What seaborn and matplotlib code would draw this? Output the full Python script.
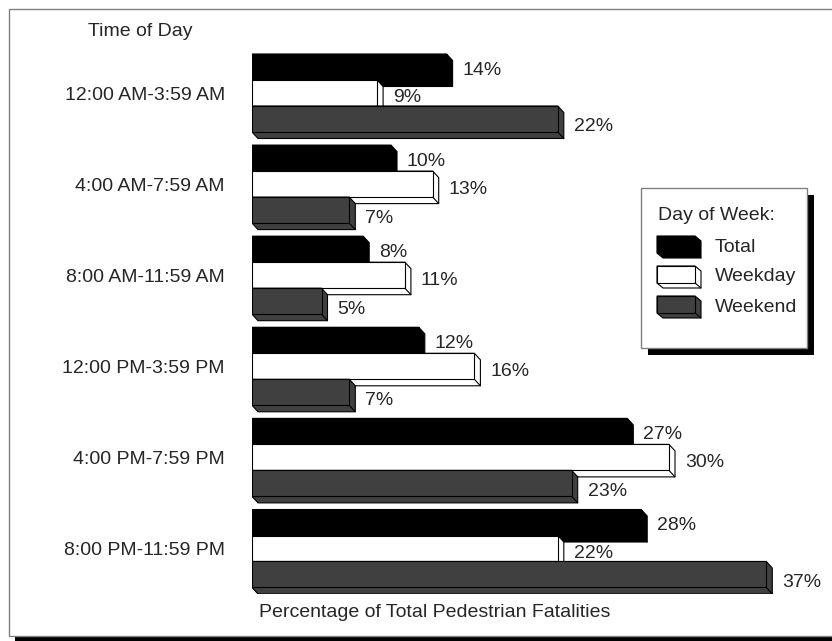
import numpy as np
import pandas as pd
import matplotlib
matplotlib.use("Agg")
import matplotlib.pyplot as plt
import seaborn as sns
from matplotlib.patches import Polygon, Rectangle
from matplotlib.lines import Line2D

# ---------------- data ----------------
time_slots = ["12:00 AM-3:59 AM", "4:00 AM-7:59 AM", "8:00 AM-11:59 AM",
              "12:00 PM-3:59 PM", "4:00 PM-7:59 PM", "8:00 PM-11:59 PM"]
series = ["Total", "Weekday", "Weekend"]
total = [14, 10, 8, 12, 27, 28]
weekday = [9, 13, 11, 16, 30, 22]
weekend = [22, 7, 5, 7, 23, 37]
colors = ["#000000", "#FFFFFF", "#404040"]

df = pd.DataFrame({
    "Time of Day": time_slots * 3,
    "Day of Week": np.repeat(series, len(time_slots)),
    "Percent": total + weekday + weekend,
})

# ---------------- style ----------------
sns.set_style("white")
plt.rcParams['font.family'] = ['Liberation Sans', 'DejaVu Sans']
FS = 14

W, H = 832, 641
fig = plt.figure(figsize=(W / 100, H / 100), dpi=100)
fig.patch.set_facecolor("white")

def fx(px):
    return px / W

def fy(py):
    return 1 - py / H

def fig_rect(x0, y0, x1, y1, **kw):
    r = Rectangle((fx(x0), fy(y1)), (x1 - x0) / W, (y1 - y0) / H,
                  transform=fig.transFigure, **kw)
    fig.add_artist(r)
    return r

def fig_poly(pts, **kw):
    p = Polygon([(fx(a), fy(b)) for a, b in pts], closed=True,
                transform=fig.transFigure, **kw)
    fig.add_artist(p)
    return p

# outer frame with shadow
fig_rect(15, 15, 845, 642, facecolor="black", edgecolor="none", zorder=-3)
fig_rect(9, 9, 840, 636, facecolor="white", edgecolor="#808080", linewidth=1.0, zorder=-2)

# ---------------- axes ----------------
px_per_unit = 13.9
row_px = 91.1
top_px = 93 - row_px / 2
ax_h = row_px * 6
ax_w = 560
ax = fig.add_axes([fx(252), fy(top_px + ax_h), ax_w / W, ax_h / H])
ax.patch.set_visible(False)

sns.barplot(data=df, y="Time of Day", x="Percent", hue="Day of Week",
            palette=colors, width=0.856, orient="h", ax=ax,
            edgecolor="black", linewidth=0.8, saturation=1, legend=False,
            errorbar=None)

ax.set_xlim(0, ax_w / px_per_unit)
ax.set_ylim(5.5, -0.5)
for s in ax.spines.values():
    s.set_visible(False)
ax.set_xticks([])
ax.tick_params(axis="y", length=0, pad=27 * 72 / 100, labelsize=FS)

# 3-D extrusion for every bar
dx = 6 / px_per_unit
dy = 6.5 / row_px
label_dy = [3, 5, 8]
for hi, cont in enumerate(ax.containers):
    for j, p in enumerate(cont.patches):
        x, w = p.get_x(), p.get_width()
        y, h = p.get_y(), p.get_height()
        fc = p.get_facecolor()
        z = 2 + j * 0.1 + hi * 0.02
        ec = "black"
        poly = Polygon([(x, y), (x + w, y), (x + w + dx, y + dy),
                        (x + w + dx, y + h + dy), (x + dx, y + h + dy), (x, y + h)],
                       closed=True, facecolor=fc, edgecolor=ec, linewidth=0.8,
                       zorder=z)
        ax.add_patch(poly)
        p.set_zorder(z + 0.005)
        ax.add_line(Line2D([x + w, x + w + dx], [y + h, y + h + dy],
                           color=ec, linewidth=0.8, zorder=z + 0.008))
        v = cont.datavalues[j]
        ax.annotate(f"{v:g}%", xy=(x + w, y + h / 2),
                    xytext=(16, -label_dy[hi]), textcoords="offset pixels",
                    ha="left", va="center", fontsize=FS, zorder=10)

# axis titles
ax.set_xlabel("Percentage of Total Pedestrian Fatalities", fontsize=FS)
ax.xaxis.label.set_ha("left")
ax.xaxis.label.set_va("center")
ax.xaxis.set_label_coords(7 / ax_w, -(612.5 - (top_px + ax_h)) / ax_h)
ax.set_ylabel("Time of Day", fontsize=FS, rotation=0)
ax.yaxis.label.set_ha("center")
ax.yaxis.label.set_va("center")
ax.yaxis.set_label_coords((140 - 252) / ax_w, 1 + (top_px - 32) / ax_h)

# ---------------- legend ----------------
fig_rect(648, 195, 814, 355, facecolor="black", edgecolor="none", zorder=5)
fig_rect(641, 188, 807, 348, facecolor="white", edgecolor="#808080", linewidth=1.0, zorder=6)
fig.text(fx(658), fy(215), "Day of Week:", fontsize=FS, ha="left", va="center", zorder=8)
row_centers = [247, 277, 307]
for name, col, c in zip(series, colors, row_centers):
    x0, x1, y0, y1 = 657, 695, c - 11, c + 6
    ddx, ddy = 6, 5
    fig_poly([(x0, y0), (x1, y0), (x1 + ddx, y0 + ddy), (x1 + ddx, y1 + ddy),
              (x0 + ddx, y1 + ddy), (x0, y1)],
             facecolor=col, edgecolor="black", linewidth=0.8, zorder=7)
    fig_rect(x0, y0, x1, y1, facecolor=col, edgecolor="black", linewidth=0.8, zorder=7.5)
    fig.add_artist(Line2D([fx(x1), fx(x1 + ddx)], [fy(y1), fy(y1 + ddy)],
                          transform=fig.transFigure, color="black", linewidth=0.8, zorder=7.6))
    fig.text(fx(715), fy(c), name, fontsize=FS, ha="left", va="center", zorder=8)

fig.savefig("out.png", dpi=100)
